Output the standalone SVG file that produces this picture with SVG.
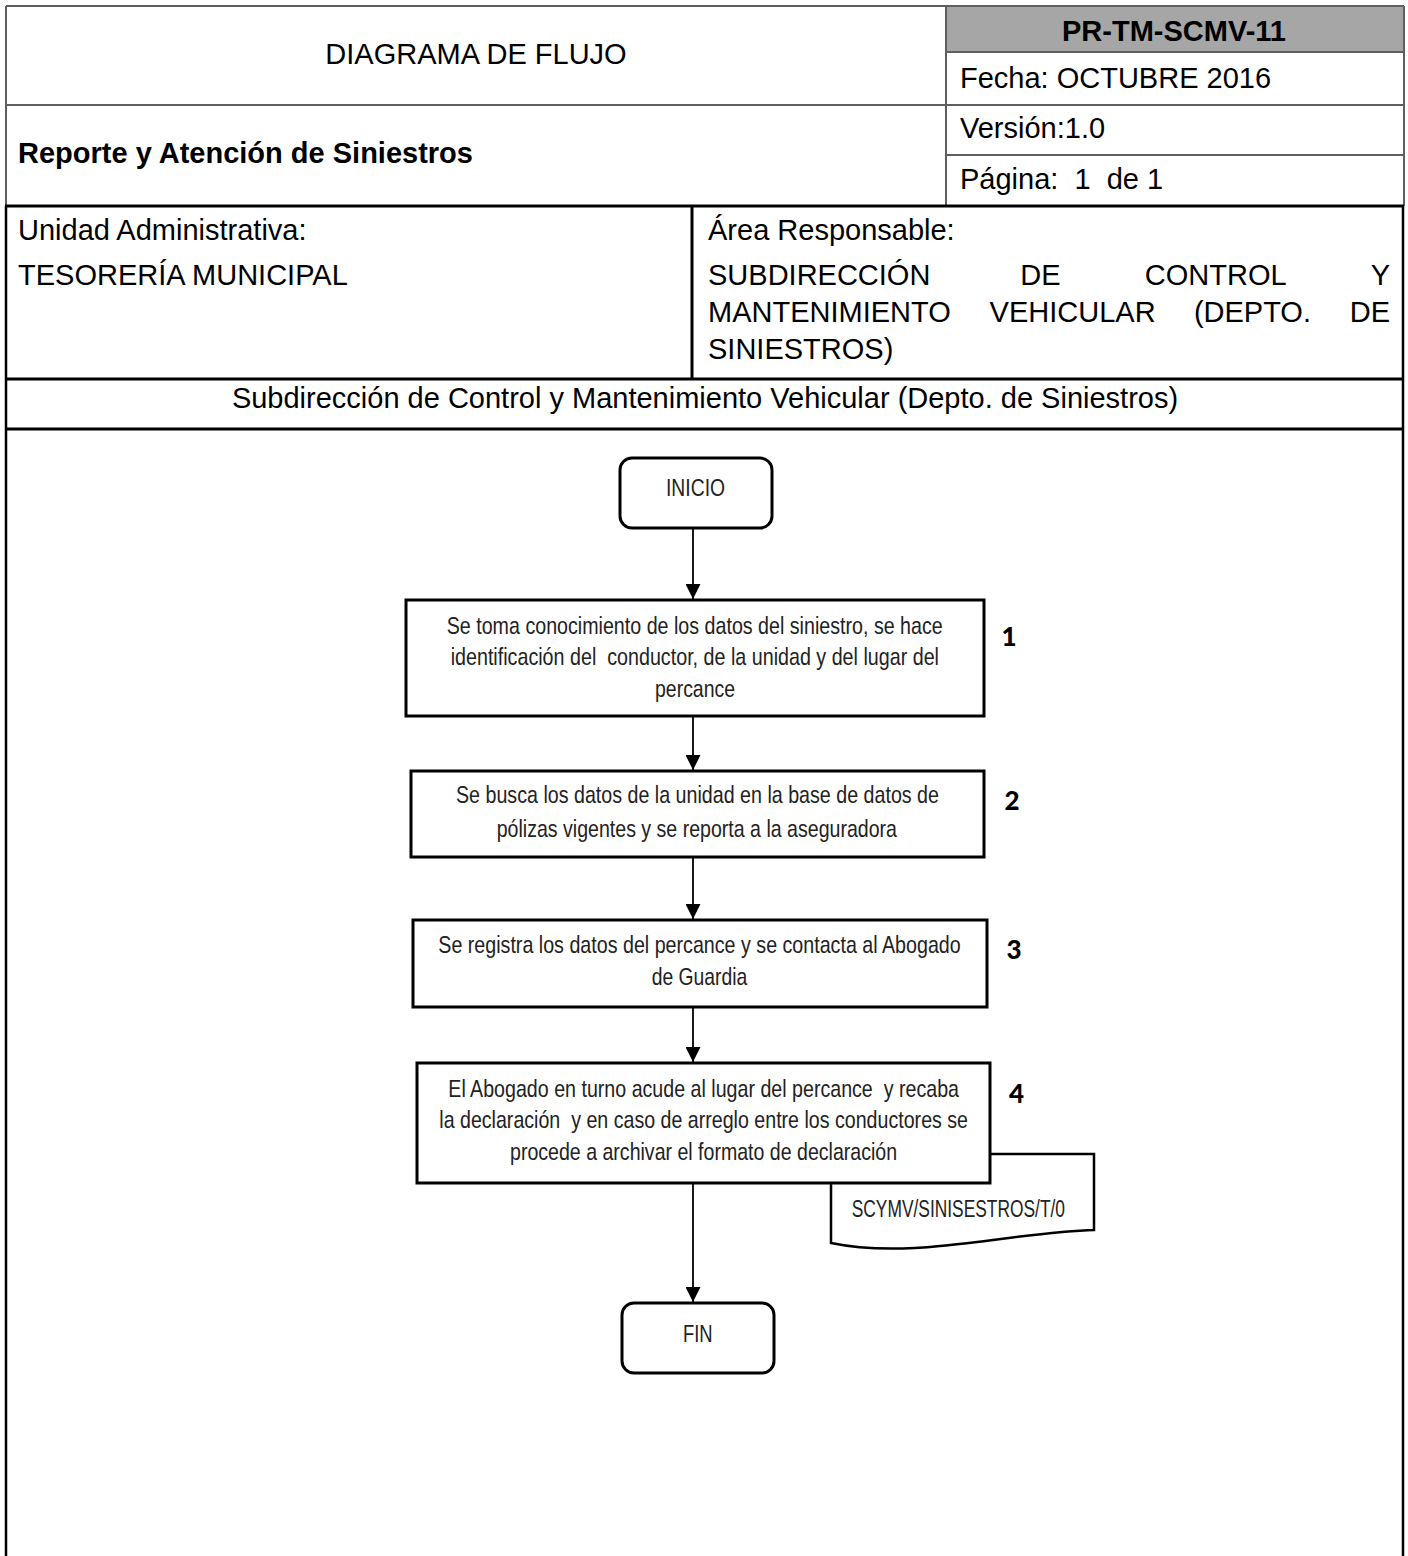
<svg xmlns="http://www.w3.org/2000/svg" width="1408" height="1556" viewBox="0 0 1408 1556">
<defs>
<style>
.hl{stroke:#5f5f5f;stroke-width:2;fill:none}
.bl{stroke:#000;stroke-width:3;fill:none}
.ht{font-family:"Liberation Sans",Arial,sans-serif;font-size:29px;fill:#000}
.hb{font-family:"Liberation Sans",Arial,sans-serif;font-size:29px;font-weight:bold;fill:#000}
.box{fill:#fff;stroke:#000;stroke-width:3}
.bt{font-family:"Liberation Sans",Arial,sans-serif;font-size:24px;fill:#222}
.num{font-family:Lato,"Liberation Sans",sans-serif;font-size:26px;font-weight:900;fill:#000;text-anchor:middle}
.cn{stroke:#000;stroke-width:1.8;fill:none;marker-end:url(#ah)}
</style>
<marker id="ah" viewBox="0 0 15 15" refX="15" refY="7.5" markerWidth="15" markerHeight="15" markerUnits="userSpaceOnUse" orient="auto">
<path d="M0,0 L15,7.5 L0,15 Z" fill="#000"/>
</marker>
</defs>
<rect width="1408" height="1556" fill="#fff"/>

<g id="header">
<rect x="946" y="6" width="458" height="46" fill="#a6a6a6"/>
<path class="hl" d="M6,6 H1404 M6,6 V206 M1404,6 V206 M946,6 V206 M946,52 H1404 M6,105 H1404 M946,155 H1404"/>
<text class="ht" x="476" y="63.5" text-anchor="middle">DIAGRAMA DE FLUJO</text>
<text class="hb" x="1174" y="41" text-anchor="middle">PR-TM-SCMV-11</text>
<text class="ht" x="960" y="88">Fecha: OCTUBRE 2016</text>
<text class="hb" x="18" y="163">Reporte y Atención de Siniestros</text>
<text class="ht" x="960" y="138">Versión:1.0</text>
<text class="ht" x="960" y="189" xml:space="preserve">Página:  1  de 1</text>
</g>

<g id="info">
<path class="bl" d="M5,206 H1404 M5,379 H1404 M5,429 H1404 M692,206 V379"/>
<path d="M6,206 V1556 M1403,206 V1556" stroke="#000" stroke-width="2.5" fill="none"/>
<text class="ht" x="18" y="240">Unidad Administrativa:</text>
<text class="ht" x="18" y="285">TESORERÍA MUNICIPAL</text>
<text class="ht" x="708" y="240">Área Responsable:</text>
<text class="ht" y="285"><tspan x="708">SUBDIRECCIÓN</tspan><tspan x="1020.3">DE</tspan><tspan x="1144.8">CONTROL</tspan><tspan x="1370.7">Y</tspan></text>
<text class="ht" y="322"><tspan x="708">MANTENIMIENTO</tspan><tspan x="989.6">VEHICULAR</tspan><tspan x="1193.9">(DEPTO.</tspan><tspan x="1349.7">DE</tspan></text>
<text class="ht" x="708" y="359">SINIESTROS)</text>
<text class="ht" x="705" y="408" text-anchor="middle">Subdirección de Control y Mantenimiento Vehicular (Depto. de Siniestros)</text>
</g>

<g id="connectors">
<line class="cn" x1="693" y1="528" x2="693" y2="599"/>
<line class="cn" x1="693" y1="716" x2="693" y2="770"/>
<line class="cn" x1="693" y1="857" x2="693" y2="919"/>
<line class="cn" x1="693" y1="1007" x2="693" y2="1062"/>
<line class="cn" x1="693" y1="1183" x2="693" y2="1302"/>
</g>

<g id="inicio">
<rect class="box" x="620" y="458" width="152" height="70" rx="12"/>
<g transform="scale(0.82 1)">
<text class="bt" x="812.2" y="496" textLength="72" lengthAdjust="spacingAndGlyphs">INICIO</text>
</g>
</g>

<g id="paso1">
<rect class="box" x="406" y="600" width="578" height="116"/>
<g transform="scale(0.82 1)">
<text class="bt" x="544.8" y="634" textLength="604.9" lengthAdjust="spacingAndGlyphs" xml:space="preserve">Se toma conocimiento de los datos del siniestro, se hace</text>
<text class="bt" x="549.6" y="665.5" textLength="595.5" lengthAdjust="spacingAndGlyphs" xml:space="preserve">identificación del  conductor, de la unidad y del lugar del</text>
<text class="bt" x="798.8" y="697" textLength="97.6" lengthAdjust="spacingAndGlyphs">percance</text>
</g>
<text class="num" x="1009" y="645.5">1</text>
</g>

<g id="paso2">
<rect class="box" x="411" y="771" width="573" height="86"/>
<g transform="scale(0.82 1)">
<text class="bt" x="556.1" y="803.5" textLength="589" lengthAdjust="spacingAndGlyphs">Se busca los datos de la unidad en la base de datos de</text>
<text class="bt" x="605.7" y="837" textLength="488.2" lengthAdjust="spacingAndGlyphs">pólizas vigentes y se reporta a la aseguradora</text>
</g>
<text class="num" x="1012" y="809.5">2</text>
</g>

<g id="paso3">
<rect class="box" x="413" y="920" width="574" height="87"/>
<g transform="scale(0.82 1)">
<text class="bt" x="534.5" y="953" textLength="637.1" lengthAdjust="spacingAndGlyphs">Se registra los datos del percance y se contacta al Abogado</text>
<text class="bt" x="794.8" y="985.5" textLength="116.6" lengthAdjust="spacingAndGlyphs">de Guardia</text>
</g>
<text class="num" x="1014" y="958.5">3</text>
</g>

<g id="documento">
<path d="M831,1154 H1094 V1230 C1050,1231 1000,1240 940,1246 C900,1250 860,1249 831,1243 Z" fill="#fff" stroke="#000" stroke-width="2.5"/>
<g transform="scale(0.82 1)">
<text class="bt" x="1038.7" y="1217" textLength="260.1" lengthAdjust="spacingAndGlyphs">SCYMV/SINISESTROS/T/0</text>
</g>
</g>

<g id="paso4">
<rect class="box" x="417" y="1063" width="573" height="120"/>
<g transform="scale(0.82 1)">
<text class="bt" x="546.7" y="1097" textLength="622.8" lengthAdjust="spacingAndGlyphs" xml:space="preserve">El Abogado en turno acude al lugar del percance  y recaba</text>
<text class="bt" x="535.7" y="1128.5" textLength="644.8" lengthAdjust="spacingAndGlyphs" xml:space="preserve">la declaración  y en caso de arreglo entre los conductores se</text>
<text class="bt" x="622" y="1160" textLength="472" lengthAdjust="spacingAndGlyphs">procede a archivar el formato de declaración</text>
</g>
<text class="num" x="1016.5" y="1102.5">4</text>
</g>

<g id="fin">
<rect class="box" x="622" y="1303" width="152" height="70" rx="12"/>
<g transform="scale(0.82 1)">
<text class="bt" x="832.9" y="1342.5" textLength="36.2" lengthAdjust="spacingAndGlyphs">FIN</text>
</g>
</g>
</svg>
